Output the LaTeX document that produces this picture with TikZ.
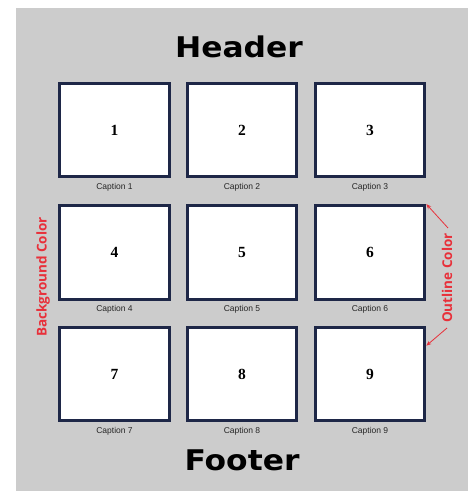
\documentclass[tikz,border=0pt]{standalone}
\usepackage{fontspec}
\usepackage{xcolor}
\usepackage{tikz}
\usetikzlibrary{arrows.meta, positioning}
\setmainfont{Liberation Serif}
\newfontfamily\capfont{Liberation Sans}
\newfontfamily\headfont{DejaVu Sans}
\newfontfamily\notefont{Open Sans}
\definecolor{pagegray}{HTML}{CCCCCC}
\definecolor{boxnavy}{HTML}{1E2747}
\definecolor{noteRed}{HTML}{E8303A}

\begin{document}
\begin{tikzpicture}[x=1pt, y=-1pt,
    panel/.style={draw=boxnavy, line width=3.2pt, fill=white,
                  minimum width=109.5pt, minimum height=93.5pt,
                  font=\fontsize{15.5}{15.5}\selectfont\bfseries},
    caption/.style={font=\capfont\fontsize{8.5}{9}\selectfont, text=black!85, inner sep=0pt, below=4.5pt of #1},
    title/.style={font=\headfont\fontsize{28.5}{28.5}\selectfont\bfseries, xscale=1.1, inner sep=0pt},
    note/.style={font=\notefont\fontsize{13.5}{14}\selectfont\bfseries, text=noteRed, rotate=90, inner sep=0pt},
    pointer/.style={noteRed, line width=0.8pt, -{Stealth[length=5pt, width=4pt]}}]
  \useasboundingbox (0,0) rectangle (474,491);
  \fill[pagegray] (16,8) rectangle (468,491);
  % header and footer
  \node[title] (header) at (239,47) {Header};
  \node[title] (footer) at (242,460) {Footer};
  % row 1
  \node[panel] (box1) at (114.5,130) {1};
  \node[panel] (box2) at (242,130) {2};
  \node[panel] (box3) at (370,130) {3};
  % row 2
  \node[panel] (box4) at (114.5,252.5) {4};
  \node[panel] (box5) at (242,252.5) {5};
  \node[panel] (box6) at (370,252.5) {6};
  % row 3
  \node[panel] (box7) at (114.5,374) {7};
  \node[panel] (box8) at (242,374) {8};
  \node[panel] (box9) at (370,374) {9};
  % captions
  \node[caption=box1] (cap1) {Caption 1};
  \node[caption=box2] (cap2) {Caption 2};
  \node[caption=box3] (cap3) {Caption 3};
  \node[caption=box4] (cap4) {Caption 4};
  \node[caption=box5] (cap5) {Caption 5};
  \node[caption=box6] (cap6) {Caption 6};
  \node[caption=box7] (cap7) {Caption 7};
  \node[caption=box8] (cap8) {Caption 8};
  \node[caption=box9] (cap9) {Caption 9};
  % side notes
  \node[note] (bgnote) at (43,277) {Background Color};
  \node[note] (outnote) at (447,278) {Outline Color};
  \coordinate (outTop) at ([shift={(1,-5)}]outnote.east);
  \coordinate (outBot) at ([shift={(0,5)}]outnote.west);
  \coordinate (box9edge) at ([yshift=-20pt]box9.north east);
  \draw[pointer] (outTop) -- (box6.north east);
  \draw[pointer] (outBot) -- (box9edge);
\end{tikzpicture}
\end{document}
